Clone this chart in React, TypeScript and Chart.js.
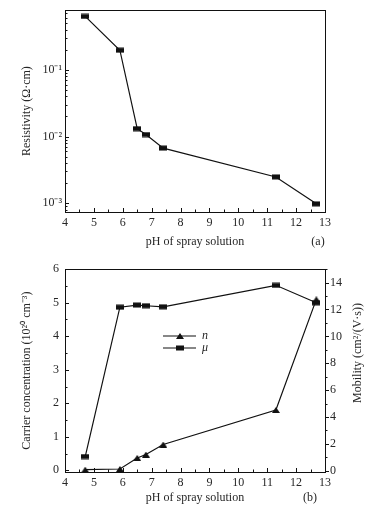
import React, { useEffect, useRef } from "react";
import { Chart, registerables } from "chart.js";
Chart.register(...registerables);

const phValues = [4.7, 5.9, 6.5, 6.8, 7.4, 11.3, 12.7];
const resistivity = [0.63, 0.196, 0.0131, 0.0107, 0.0067, 0.00248, 0.00098];
const carrierConc = [0.02, 0.04, 0.37, 0.47, 0.77, 1.8, 5.1];
const mobility = [1.05, 12.17, 12.33, 12.28, 12.2, 13.8, 12.5];

const xTicks = [4, 5, 6, 7, 8, 9, 10, 11, 12, 13];
const logMajorTicks = [0.001, 0.01, 0.1];
const logTickLabels = ["10⁻³", "10⁻²", "10⁻¹"];
const leftTicks = [0, 1, 2, 3, 4, 5, 6];
const rightTicks = [0, 2, 4, 6, 8, 10, 12, 14];

const FONT = "'Liberation Serif', 'Times New Roman', serif";
const TXT = "#262626";
const INK = "#111";

function makeMarker(kind: string) {
  const c = document.createElement("canvas");
  c.width = 8;
  c.height = 6;
  const g = c.getContext("2d")!;
  g.fillStyle = INK;
  if (kind === "rect") {
    g.fillRect(0, 0.5, 8, 5);
  } else {
    g.beginPath();
    g.moveTo(4, 0);
    g.lineTo(8, 6);
    g.lineTo(0, 6);
    g.closePath();
    g.fill();
  }
  return c;
}

const minorRange = (a: number, b: number, step: number, major: number[]) => {
  const out: number[] = [];
  for (let v = a; v <= b + 1e-9; v += step) {
    const r = Math.round(v * 1000) / 1000;
    if (!major.some((m) => Math.abs(m - r) < 1e-6)) out.push(r);
  }
  return out;
};

const logMinor = () => {
  const out: number[] = [];
  for (let d = -4; d <= 0; d++) for (let m = 2; m <= 9; m++) out.push(m * Math.pow(10, d));
  return out;
};

const frameTicksPlugin = {
  id: "frameTicks",
  afterDraw(chart: any, _args: any, opts: any) {
    const { ctx, chartArea: a } = chart;
    ctx.save();
    ctx.strokeStyle = INK;
    ctx.lineWidth = 1;
    ctx.strokeRect(Math.round(a.left) + 0.5, Math.round(a.top) + 0.5, Math.round(a.right - a.left), Math.round(a.bottom - a.top));
    for (const spec of opts.specs || []) {
      const scale = chart.scales[spec.scale];
      const drawT = (v: number, len: number) => {
        if (v < scale.min || v > scale.max) return;
        const p = Math.round(scale.getPixelForValue(v)) + 0.5;
        ctx.beginPath();
        if (spec.side === "bottom") {
          ctx.moveTo(p, a.bottom);
          ctx.lineTo(p, a.bottom - len);
        } else if (spec.side === "left") {
          ctx.moveTo(a.left, p);
          ctx.lineTo(a.left + len, p);
        } else if (spec.side === "right") {
          ctx.moveTo(a.right, p);
          ctx.lineTo(a.right + len, p);
        }
        ctx.stroke();
      };
      spec.major.forEach((v: number) => drawT(v, 4));
      spec.minor.forEach((v: number) => drawT(v, 2.5));
    }
    ctx.fillStyle = TXT;
    ctx.font = `12px ${FONT}`;
    for (const t of opts.texts || []) {
      ctx.save();
      ctx.translate(t.x, t.y);
      ctx.rotate(t.rot || 0);
      ctx.textAlign = "center";
      ctx.textBaseline = "middle";
      ctx.fillText(t.text, 0, 0);
      ctx.restore();
    }
    if (opts.legend) {
      for (const row of opts.legend) {
        ctx.beginPath();
        ctx.lineWidth = 1.2;
        ctx.moveTo(row.x0, row.y);
        ctx.lineTo(row.x1, row.y);
        ctx.stroke();
        const mk = row.marker;
        ctx.drawImage(mk, Math.round((row.x0 + row.x1) / 2 - mk.width / 2), Math.round(row.y - mk.height / 2));
        ctx.font = `italic 12px ${FONT}`;
        ctx.textAlign = "left";
        ctx.textBaseline = "middle";
        ctx.fillText(row.label, row.x1 + 6, row.y);
      }
    }
    ctx.restore();
  },
};

const tickFont = { family: FONT, size: 12 };
const titleFont = { family: FONT, size: 12 };
const noGrid = { display: false, drawTicks: false, tickLength: 0 };

function TopChart() {
  const ref = useRef<HTMLCanvasElement>(null);
  useEffect(() => {
    const sq = makeMarker("rect");
    const chart = new Chart(ref.current!, {
      type: "line",
      data: {
        datasets: [
          {
            data: phValues.map((x, i) => ({ x, y: resistivity[i] })),
            borderColor: INK,
            borderWidth: 1.2,
            pointStyle: sq as any,
            backgroundColor: INK,
          },
        ],
      },
      plugins: [frameTicksPlugin],
      options: {
        responsive: false,
        animation: false,
        layout: { padding: { top: 5, right: 53, left: 0, bottom: 0 } },
        plugins: {
          legend: { display: false },
          tooltip: { enabled: false },
          frameTicks: {
            specs: [
              { scale: "x", side: "bottom", major: xTicks, minor: minorRange(4, 13, 0.5, xTicks) },
              { scale: "y", side: "left", major: logMajorTicks, minor: logMinor() },
            ],
            texts: [{ x: 318, y: 242, text: "(a)" }],
          },
        } as any,
        scales: {
          x: {
            type: "linear",
            min: 4,
            max: 13,
            grid: noGrid,
            border: { display: false },
            afterBuildTicks: (s: any) => { s.ticks = xTicks.map((v) => ({ value: v })); },
            afterFit: (s: any) => { s.height = 44; },
            ticks: { font: tickFont, color: TXT, padding: 4, maxRotation: 0, autoSkip: false, callback: (v: any) => String(v) },
            title: { display: true, text: "pH of spray solution", font: titleFont, color: TXT, padding: { top: 0, bottom: 7 } },
          },
          y: {
            type: "logarithmic",
            min: 0.00074,
            max: 0.78,
            grid: noGrid,
            border: { display: false },
            afterBuildTicks: (s: any) => { s.ticks = logMajorTicks.map((v) => ({ value: v })); },
            afterFit: (s: any) => { s.width = 65; },
            ticks: {
              font: tickFont,
              color: TXT,
              padding: 3,
              autoSkip: false,
              callback: (v: any) => {
                const i = logMajorTicks.findIndex((m) => Math.abs(m - v) / m < 1e-6);
                return i >= 0 ? logTickLabels[i] : "";
              },
            },
            title: { display: true, text: "Resistivity (Ω·cm)", font: titleFont, color: TXT, padding: { top: 20, bottom: 0 } },
          },
        },
      },
    });
    return () => chart.destroy();
  }, []);
  return <canvas ref={ref} width={378} height={256} style={{ display: "block" }} />;
}

function BottomChart() {
  const ref = useRef<HTMLCanvasElement>(null);
  useEffect(() => {
    const sq = makeMarker("rect");
    const tri = makeMarker("tri");
    const chart = new Chart(ref.current!, {
      type: "line",
      data: {
        datasets: [
          {
            label: "n",
            data: phValues.map((x, i) => ({ x, y: carrierConc[i] })),
            borderColor: INK,
            borderWidth: 1.2,
            pointStyle: tri as any,
            backgroundColor: INK,
            yAxisID: "y",
          },
          {
            label: "μ",
            data: phValues.map((x, i) => ({ x, y: mobility[i] })),
            borderColor: INK,
            borderWidth: 1.2,
            pointStyle: sq as any,
            backgroundColor: INK,
            yAxisID: "y1",
          },
        ],
      },
      plugins: [frameTicksPlugin],
      options: {
        responsive: false,
        animation: false,
        layout: { padding: { top: 9, right: 0, left: 0, bottom: 0 } },
        plugins: {
          legend: { display: false },
          tooltip: { enabled: false },
          frameTicks: {
            specs: [
              { scale: "x", side: "bottom", major: xTicks, minor: minorRange(4, 13, 0.5, xTicks) },
              { scale: "y", side: "left", major: leftTicks, minor: minorRange(0, 6, 0.5, leftTicks) },
              { scale: "y1", side: "right", major: rightTicks, minor: minorRange(1, 15, 1, rightTicks) },
            ],
            texts: [
              { x: 310, y: 242, text: "(b)" },
              { x: 358, y: 97, text: "Mobility (cm²/(V·s))", rot: -Math.PI / 2 },
            ],
            legend: [
              { x0: 163, x1: 196, y: 80, marker: tri, label: "n" },
              { x0: 163, x1: 196, y: 92, marker: sq, label: "μ" },
            ],
          },
        } as any,
        scales: {
          x: {
            type: "linear",
            min: 4,
            max: 13,
            grid: noGrid,
            border: { display: false },
            afterBuildTicks: (s: any) => { s.ticks = xTicks.map((v) => ({ value: v })); },
            afterFit: (s: any) => { s.height = 40; },
            ticks: { font: tickFont, color: TXT, padding: 4, maxRotation: 0, autoSkip: false, callback: (v: any) => String(v) },
            title: { display: true, text: "pH of spray solution", font: titleFont, color: TXT, padding: { top: 0, bottom: 7 } },
          },
          y: {
            type: "linear",
            position: "left",
            min: -0.05,
            max: 6,
            grid: noGrid,
            border: { display: false },
            afterBuildTicks: (s: any) => { s.ticks = leftTicks.map((v) => ({ value: v })); },
            afterFit: (s: any) => { s.width = 65; },
            ticks: { font: tickFont, color: TXT, padding: 6, autoSkip: false, callback: (v: any) => String(v) },
            title: { display: true, text: "Carrier concentration (10²⁰ cm⁻³)", font: titleFont, color: TXT, padding: { top: 20, bottom: 0 } },
          },
          y1: {
            type: "linear",
            position: "right",
            min: -0.1,
            max: 15,
            grid: noGrid,
            border: { display: false },
            afterBuildTicks: (s: any) => { s.ticks = rightTicks.map((v) => ({ value: v })); },
            afterFit: (s: any) => { s.width = 53; },
            ticks: { font: tickFont, color: TXT, padding: 5, autoSkip: false, callback: (v: any) => String(v) },
          },
        },
      },
    });
    return () => chart.destroy();
  }, []);
  return <canvas ref={ref} width={378} height={256} style={{ display: "block" }} />;
}

export default function App() {
  useEffect(() => {
    document.body.style.margin = "0";
    document.body.style.background = "#fff";
  }, []);
  return (
    <div style={{ width: 378, height: 512, background: "#fff" }}>
      <TopChart />
      <BottomChart />
    </div>
  );
}
